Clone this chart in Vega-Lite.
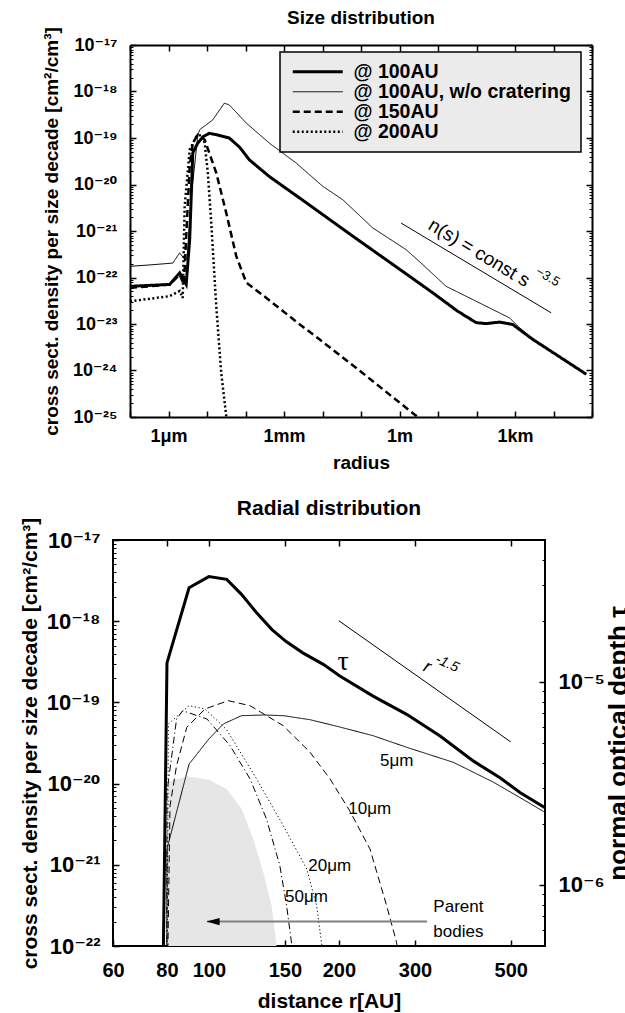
{
  "$schema": "https://vega.github.io/schema/vega-lite/v6.json",
  "background": "white",
  "padding": {"left": 18, "top": 8, "right": 0, "bottom": 0},
  "config": {
    "font": "Liberation Sans",
    "view": {"stroke": "black", "strokeWidth": 2},
    "axis": {"grid": false, "domain": false, "tickColor": "black", "tickWidth": 1.5, "labelColor": "black", "titleColor": "black", "labelFont": "Liberation Sans, DejaVu Sans", "titleFont": "Liberation Sans", "labelFontWeight": "bold", "titleFontWeight": "bold", "labelFlush": false, "labelOverlap": false},
    "title": {"font": "Liberation Sans", "fontWeight": "bold", "color": "black", "frame": "group", "anchor": "middle"},
    "text": {"font": "Liberation Sans", "color": "black"}
  },
  "resolve": {"scale": {"strokeDash": "independent"}, "legend": {"strokeDash": "independent"}},
  "datasets": {
    "size": [
      {"series": "@ 100AU", "s": 1e-7, "v": 6.46e-23},
      {"series": "@ 100AU", "s": 3.16e-7, "v": 6.76e-23},
      {"series": "@ 100AU", "s": 1.07e-6, "v": 7.08e-23},
      {"series": "@ 100AU", "s": 1.95e-6, "v": 1.26e-22},
      {"series": "@ 100AU", "s": 2.88e-6, "v": 7.08e-23},
      {"series": "@ 100AU", "s": 3.55e-6, "v": 6.61e-22},
      {"series": "@ 100AU", "s": 4.27e-6, "v": 4.79e-20},
      {"series": "@ 100AU", "s": 5.75e-6, "v": 7.76e-20},
      {"series": "@ 100AU", "s": 7.94e-6, "v": 1.07e-19},
      {"series": "@ 100AU", "s": 1.15e-5, "v": 1.26e-19},
      {"series": "@ 100AU", "s": 2.0e-5, "v": 1.15e-19},
      {"series": "@ 100AU", "s": 3.8e-5, "v": 1.0e-19},
      {"series": "@ 100AU", "s": 7.08e-5, "v": 6.31e-20},
      {"series": "@ 100AU", "s": 1.26e-4, "v": 3.39e-20},
      {"series": "@ 100AU", "s": 4.17e-4, "v": 1.48e-20},
      {"series": "@ 100AU", "s": 3.09e-3, "v": 4.57e-21},
      {"series": "@ 100AU", "s": 1.51e-2, "v": 1.78e-21},
      {"series": "@ 100AU", "s": 5.01e-2, "v": 8.71e-22},
      {"series": "@ 100AU", "s": 1, "v": 1.51e-22},
      {"series": "@ 100AU", "s": 7.33, "v": 4.68e-23},
      {"series": "@ 100AU", "s": 31.6, "v": 1.91e-23},
      {"series": "@ 100AU", "s": 97.7, "v": 1.07e-23},
      {"series": "@ 100AU", "s": 178, "v": 1.02e-23},
      {"series": "@ 100AU", "s": 398, "v": 1.10e-23},
      {"series": "@ 100AU", "s": 871, "v": 9.77e-24},
      {"series": "@ 100AU", "s": 2884, "v": 4.68e-24},
      {"series": "@ 100AU", "s": 70795, "v": 8.32e-25},
      {"series": "@ 100AU, w/o cratering", "s": 1e-7, "v": 1.74e-22},
      {"series": "@ 100AU, w/o cratering", "s": 3.16e-7, "v": 1.86e-22},
      {"series": "@ 100AU, w/o cratering", "s": 1.29e-6, "v": 2.04e-22},
      {"series": "@ 100AU, w/o cratering", "s": 1.95e-6, "v": 3.39e-22},
      {"series": "@ 100AU, w/o cratering", "s": 2.63e-6, "v": 2.45e-22},
      {"series": "@ 100AU, w/o cratering", "s": 3.02e-6, "v": 2.51e-22},
      {"series": "@ 100AU, w/o cratering", "s": 3.98e-6, "v": 6.31e-21},
      {"series": "@ 100AU, w/o cratering", "s": 5.75e-6, "v": 1.12e-19},
      {"series": "@ 100AU, w/o cratering", "s": 6.46e-6, "v": 1.51e-19},
      {"series": "@ 100AU, w/o cratering", "s": 1.41e-5, "v": 2.45e-19},
      {"series": "@ 100AU, w/o cratering", "s": 2.82e-5, "v": 5.62e-19},
      {"series": "@ 100AU, w/o cratering", "s": 3.8e-5, "v": 5.13e-19},
      {"series": "@ 100AU, w/o cratering", "s": 1.05e-4, "v": 2.09e-19},
      {"series": "@ 100AU, w/o cratering", "s": 4.17e-4, "v": 7.76e-20},
      {"series": "@ 100AU, w/o cratering", "s": 2.09e-3, "v": 2.88e-20},
      {"series": "@ 100AU, w/o cratering", "s": 1.02e-2, "v": 9.12e-21},
      {"series": "@ 100AU, w/o cratering", "s": 3.39e-2, "v": 4.68e-21},
      {"series": "@ 100AU, w/o cratering", "s": 0.2, "v": 1.17e-21},
      {"series": "@ 100AU, w/o cratering", "s": 1.48, "v": 3.98e-22},
      {"series": "@ 100AU, w/o cratering", "s": 3.98, "v": 1.91e-22},
      {"series": "@ 100AU, w/o cratering", "s": 16.2, "v": 6.46e-23},
      {"series": "@ 100AU, w/o cratering", "s": 97.7, "v": 3.09e-23},
      {"series": "@ 100AU, w/o cratering", "s": 724, "v": 1.35e-23},
      {"series": "@ 100AU, w/o cratering", "s": 1318, "v": 8.32e-24},
      {"series": "@ 100AU, w/o cratering", "s": 2884, "v": 4.68e-24},
      {"series": "@ 100AU, w/o cratering", "s": 70795, "v": 8.32e-25},
      {"series": "@ 150AU", "s": 1e-7, "v": 6.03e-23},
      {"series": "@ 150AU", "s": 3.16e-7, "v": 6.46e-23},
      {"series": "@ 150AU", "s": 1.07e-6, "v": 7.08e-23},
      {"series": "@ 150AU", "s": 1.95e-6, "v": 1.15e-22},
      {"series": "@ 150AU", "s": 2.51e-6, "v": 7.08e-23},
      {"series": "@ 150AU", "s": 3.55e-6, "v": 2.51e-20},
      {"series": "@ 150AU", "s": 4.27e-6, "v": 7.76e-20},
      {"series": "@ 150AU", "s": 5.75e-6, "v": 1.17e-19},
      {"series": "@ 150AU", "s": 8.71e-6, "v": 9.12e-20},
      {"series": "@ 150AU", "s": 1.74e-5, "v": 1.78e-20},
      {"series": "@ 150AU", "s": 3.16e-5, "v": 2.45e-21},
      {"series": "@ 150AU", "s": 5.75e-5, "v": 2.88e-22},
      {"series": "@ 150AU", "s": 1.05e-4, "v": 7.76e-23},
      {"series": "@ 150AU", "s": 2.82e-4, "v": 4.17e-23},
      {"series": "@ 150AU", "s": 2.09e-3, "v": 1.12e-23},
      {"series": "@ 150AU", "s": 8.32e-3, "v": 4.68e-24},
      {"series": "@ 150AU", "s": 9.12e-2, "v": 1.0e-24},
      {"series": "@ 150AU", "s": 2.95, "v": 1.0e-25},
      {"series": "@ 150AU", "s": 11.0, "v": 3.98e-26},
      {"series": "@ 200AU", "s": 1e-7, "v": 3.09e-23},
      {"series": "@ 200AU", "s": 3.16e-7, "v": 3.47e-23},
      {"series": "@ 200AU", "s": 1.07e-6, "v": 3.98e-23},
      {"series": "@ 200AU", "s": 1.95e-6, "v": 5.13e-23},
      {"series": "@ 200AU", "s": 2.34e-6, "v": 3.63e-23},
      {"series": "@ 200AU", "s": 2.63e-6, "v": 3.39e-21},
      {"series": "@ 200AU", "s": 3.55e-6, "v": 5.62e-20},
      {"series": "@ 200AU", "s": 5.25e-6, "v": 1.07e-19},
      {"series": "@ 200AU", "s": 7.08e-6, "v": 1.17e-19},
      {"series": "@ 200AU", "s": 8.71e-6, "v": 7.76e-20},
      {"series": "@ 200AU", "s": 1.05e-5, "v": 1.78e-20},
      {"series": "@ 200AU", "s": 1.29e-5, "v": 1.48e-21},
      {"series": "@ 200AU", "s": 1.74e-5, "v": 2.45e-23},
      {"series": "@ 200AU", "s": 2.34e-5, "v": 8.91e-25},
      {"series": "@ 200AU", "s": 3.16e-5, "v": 1.05e-25},
      {"series": "@ 200AU", "s": 3.55e-5, "v": 5.01e-26}
    ],
    "radial": [
      {"size": "5μm", "r": 79.9, "v": 1e-23},
      {"size": "5μm", "r": 80, "v": 1.57e-21},
      {"size": "5μm", "r": 90, "v": 1.74e-20},
      {"size": "5μm", "r": 100, "v": 3.54e-20},
      {"size": "5μm", "r": 108, "v": 5.42e-20},
      {"size": "5μm", "r": 119, "v": 6.86e-20},
      {"size": "5μm", "r": 134, "v": 7.0e-20},
      {"size": "5μm", "r": 149, "v": 6.86e-20},
      {"size": "5μm", "r": 171.5, "v": 6.12e-20},
      {"size": "5μm", "r": 198, "v": 5.08e-20},
      {"size": "5μm", "r": 240, "v": 3.89e-20},
      {"size": "5μm", "r": 287, "v": 2.80e-20},
      {"size": "5μm", "r": 368, "v": 1.83e-20},
      {"size": "5μm", "r": 456, "v": 1.04e-20},
      {"size": "5μm", "r": 516, "v": 7.1e-21},
      {"size": "5μm", "r": 600, "v": 4.43e-21},
      {"size": "10μm", "r": 79.9, "v": 1e-23},
      {"size": "10μm", "r": 81.3, "v": 5.3e-21},
      {"size": "10μm", "r": 84.2, "v": 1.66e-20},
      {"size": "10μm", "r": 88.9, "v": 4.93e-20},
      {"size": "10μm", "r": 98, "v": 8.3e-20},
      {"size": "10μm", "r": 110.9, "v": 1.05e-19},
      {"size": "10μm", "r": 124.6, "v": 9.1e-20},
      {"size": "10μm", "r": 148.7, "v": 5.16e-20},
      {"size": "10μm", "r": 171.5, "v": 2.43e-20},
      {"size": "10μm", "r": 190.8, "v": 1.14e-20},
      {"size": "10μm", "r": 212, "v": 4.6e-21},
      {"size": "10μm", "r": 236, "v": 1.57e-21},
      {"size": "10μm", "r": 258, "v": 3.13e-22},
      {"size": "10μm", "r": 272, "v": 1.11e-22},
      {"size": "10μm", "r": 276, "v": 6e-23},
      {"size": "20μm", "r": 79.9, "v": 1e-23},
      {"size": "20μm", "r": 80.6, "v": 5.42e-20},
      {"size": "20μm", "r": 90, "v": 9.1e-20},
      {"size": "20μm", "r": 98, "v": 8.3e-20},
      {"size": "20μm", "r": 110, "v": 4.6e-20},
      {"size": "20μm", "r": 129, "v": 1.14e-20},
      {"size": "20μm", "r": 148.7, "v": 3.03e-21},
      {"size": "20μm", "r": 168.5, "v": 8.9e-22},
      {"size": "20μm", "r": 177.7, "v": 3.1e-22},
      {"size": "20μm", "r": 182.5, "v": 1.06e-22},
      {"size": "20μm", "r": 184, "v": 7e-23},
      {"size": "50μm", "r": 79.9, "v": 1e-23},
      {"size": "50μm", "r": 80, "v": 7.8e-21},
      {"size": "50μm", "r": 84.2, "v": 6.25e-20},
      {"size": "50μm", "r": 87, "v": 7.9e-20},
      {"size": "50μm", "r": 99, "v": 6.25e-20},
      {"size": "50μm", "r": 112, "v": 2.93e-20},
      {"size": "50μm", "r": 124.6, "v": 1.14e-20},
      {"size": "50μm", "r": 136, "v": 3.66e-21},
      {"size": "50μm", "r": 146, "v": 9.75e-22},
      {"size": "50μm", "r": 151.4, "v": 3.1e-22},
      {"size": "50μm", "r": 155.5, "v": 1.06e-22},
      {"size": "50μm", "r": 157, "v": 7e-23}
    ],
    "tau": [
      {"r": 78.4, "tau": 4e-7},
      {"r": 80, "tau": 1.24e-5},
      {"r": 90, "tau": 2.91e-5},
      {"r": 100, "tau": 3.30e-5},
      {"r": 110, "tau": 3.2e-5},
      {"r": 119, "tau": 2.70e-5},
      {"r": 129, "tau": 2.19e-5},
      {"r": 140, "tau": 1.81e-5},
      {"r": 151, "tau": 1.58e-5},
      {"r": 165, "tau": 1.39e-5},
      {"r": 184, "tau": 1.22e-5},
      {"r": 201, "tau": 1.07e-5},
      {"r": 240, "tau": 8.51e-6},
      {"r": 287, "tau": 6.92e-6},
      {"r": 343, "tau": 5.41e-6},
      {"r": 410, "tau": 4.07e-6},
      {"r": 472, "tau": 3.37e-6},
      {"r": 525, "tau": 2.85e-6},
      {"r": 600, "tau": 2.40e-6}
    ],
    "parent": [
      {"r": 80, "v": 1.04e-20},
      {"r": 88.9, "v": 1.23e-20},
      {"r": 99.7, "v": 1.12e-20},
      {"r": 110, "v": 8.58e-21},
      {"r": 119.2, "v": 4.87e-21},
      {"r": 126.7, "v": 2.08e-21},
      {"r": 133.7, "v": 8.1e-22},
      {"r": 139.8, "v": 3.13e-22},
      {"r": 143.5, "v": 1.0e-22}
    ]
  },
  "vconcat": [
    {
      "width": 479,
      "height": 372,
      "view": {"stroke": null},
      "title": {"text": "Size distribution", "fontSize": 19, "offset": -1, "dx": 8.5},
      "resolve": {"axis": {"x": "independent", "y": "independent"}},
      "layer": [
        {
          "data": {"name": "size"},
          "mark": {"type": "line", "clip": true, "color": "black", "strokeCap": "butt"},
          "encoding": {
            "x": {"field": "s", "type": "quantitative",
              "scale": {"type": "log", "domain": [1e-7, 1e5], "nice": false, "range": [17, 479]},
              "axis": {"orient": "bottom", "values": [1e-7, 1e-6, 1e-5, 1e-4, 1e-3, 1e-2, 1e-1, 1, 10, 100, 1000, 1e4, 1e5], "tickSize": -6, "labelPadding": 16, "labelFontSize": 18,
                "domain": true, "domainColor": "black", "domainWidth": 2,
                "labelExpr": "datum.value == 1e-6 ? '1μm' : datum.value == 0.001 ? '1mm' : datum.value == 1 ? '1m' : datum.value == 1000 ? '1km' : ''",
                "title": "radius", "titleFontSize": 19, "titlePadding": 8}},
            "y": {"field": "v", "type": "quantitative",
              "scale": {"type": "log", "domain": [1e-25, 1e-17], "nice": false},
              "axis": {"orient": "left", "offset": -17, "values": [1e-25, 1e-24, 1e-23, 1e-22, 1e-21, 1e-20, 1e-19, 1e-18, 1e-17], "tickSize": -6, "labelPadding": 19, "labelFontSize": 18,
                "domain": true, "domainColor": "black", "domainWidth": 2,
                "labelExpr": "'10⁻' + (round(-log(datum.value)/LN10) >= 10 ? substring('⁰¹²³⁴⁵⁶⁷⁸⁹', floor(round(-log(datum.value)/LN10)/10), floor(round(-log(datum.value)/LN10)/10) + 1) : '') + substring('⁰¹²³⁴⁵⁶⁷⁸⁹', round(-log(datum.value)/LN10) % 10, round(-log(datum.value)/LN10) % 10 + 1)",
                "title": "cross sect. density per size decade [cm²/cm³]", "titleFontSize": 19, "titlePadding": 11}},
            "strokeDash": {"field": "series", "type": "nominal",
              "scale": {"domain": ["@ 100AU", "@ 100AU, w/o cratering", "@ 150AU", "@ 200AU"], "range": [[1, 0], [1, 0], [7, 4], [2, 2.5]]},
              "legend": {"title": null, "orient": "none", "legendX": 167, "legendY": 7, "fillColor": "#ebebeb", "strokeColor": "black", "padding": 10,
                "labelFontSize": 19.5, "labelFontWeight": "bold", "labelFont": "Liberation Sans", "labelColor": "black", "labelLimit": 500,
                "symbolType": "stroke", "symbolSize": 2500, "symbolStrokeColor": "black", "symbolOffset": 18, "labelOffset": 26, "rowPadding": -3,
                "encode": {
                  "symbols": {"update": {"strokeWidth": {"signal": "datum.value === '@ 100AU, w/o cratering' ? 1 : datum.value === '@ 100AU' ? 3 : 2.5"}}},
                  "legend": {"update": {"strokeWidth": {"value": 1.5}}}
                }}},
            "strokeWidth": {"condition": [{"test": "datum.series === '@ 100AU, w/o cratering'", "value": 1}, {"test": "datum.series === '@ 100AU'", "value": 3}], "value": 2.5}
          }
        },
        {
          "data": {"values": [{"s": 1.1, "v": 1.48e-21}, {"s": 8710, "v": 1.74e-23}]},
          "mark": {"type": "line", "color": "black", "strokeWidth": 1},
          "encoding": {
            "x": {"field": "s", "type": "quantitative",
              "scale": {"type": "log", "domain": [1e-7, 1e5], "nice": false, "range": [17, 479]},
              "axis": {"orient": "top", "values": [1e-7, 1e-6, 1e-5, 1e-4, 1e-3, 1e-2, 1e-1, 1, 10, 100, 1000, 1e4, 1e5], "tickSize": -6, "labels": false, "title": null,
                "domain": true, "domainColor": "black", "domainWidth": 2}},
            "y": {"field": "v", "type": "quantitative",
              "scale": {"type": "log", "domain": [1e-25, 1e-17], "nice": false},
              "axis": {"orient": "right", "values": [1e-25, 1e-24, 1e-23, 1e-22, 1e-21, 1e-20, 1e-19, 1e-18, 1e-17], "tickSize": -6, "labels": false, "title": null,
                "domain": true, "domainColor": "black", "domainWidth": 2}}
          }
        },
        {
          "data": {"values": [{"s": 117.5, "v": 3.39e-22, "label": "n(s) = const s"}]},
          "mark": {"type": "text", "angle": 31, "fontSize": 19, "align": "center", "baseline": "middle"},
          "encoding": {
            "x": {"field": "s", "type": "quantitative", "scale": {"type": "log", "domain": [1e-7, 1e5], "nice": false, "range": [17, 479]}, "axis": null},
            "y": {"field": "v", "type": "quantitative", "scale": {"type": "log", "domain": [1e-25, 1e-17], "nice": false},
              "axis": {"orient": "left", "offset": -17, "values": [2e-25, 3e-25, 4e-25, 5e-25, 6e-25, 7e-25, 8e-25, 9e-25, 2e-24, 3e-24, 4e-24, 5e-24, 6e-24, 7e-24, 8e-24, 9e-24, 2e-23, 3e-23, 4e-23, 5e-23, 6e-23, 7e-23, 8e-23, 9e-23, 2e-22, 3e-22, 4e-22, 5e-22, 6e-22, 7e-22, 8e-22, 9e-22, 2e-21, 3e-21, 4e-21, 5e-21, 6e-21, 7e-21, 8e-21, 9e-21, 2e-20, 3e-20, 4e-20, 5e-20, 6e-20, 7e-20, 8e-20, 9e-20, 2e-19, 3e-19, 4e-19, 5e-19, 6e-19, 7e-19, 8e-19, 9e-19, 2e-18, 3e-18, 4e-18, 5e-18, 6e-18, 7e-18, 8e-18, 9e-18],
                "tickSize": -3, "tickWidth": 1, "labels": false, "title": null}},
            "text": {"field": "label"}
          }
        },
        {
          "data": {"values": [{"s": 7080, "v": 1.035e-22, "label": "−3.5"}]},
          "mark": {"type": "text", "angle": 31, "fontSize": 13, "align": "center", "baseline": "middle"},
          "encoding": {
            "x": {"field": "s", "type": "quantitative", "scale": {"type": "log", "domain": [1e-7, 1e5], "nice": false, "range": [17, 479]}, "axis": null},
            "y": {"field": "v", "type": "quantitative", "scale": {"type": "log", "domain": [1e-25, 1e-17], "nice": false},
              "axis": {"orient": "right", "values": [2e-25, 3e-25, 4e-25, 5e-25, 6e-25, 7e-25, 8e-25, 9e-25, 2e-24, 3e-24, 4e-24, 5e-24, 6e-24, 7e-24, 8e-24, 9e-24, 2e-23, 3e-23, 4e-23, 5e-23, 6e-23, 7e-23, 8e-23, 9e-23, 2e-22, 3e-22, 4e-22, 5e-22, 6e-22, 7e-22, 8e-22, 9e-22, 2e-21, 3e-21, 4e-21, 5e-21, 6e-21, 7e-21, 8e-21, 9e-21, 2e-20, 3e-20, 4e-20, 5e-20, 6e-20, 7e-20, 8e-20, 9e-20, 2e-19, 3e-19, 4e-19, 5e-19, 6e-19, 7e-19, 8e-19, 9e-19, 2e-18, 3e-18, 4e-18, 5e-18, 6e-18, 7e-18, 8e-18, 9e-18],
                "tickSize": -3, "tickWidth": 1, "labels": false, "title": null}},
            "text": {"field": "label"}
          }
        }
      ]
    },
    {
      "width": 432,
      "height": 406,
      "title": {"text": "Radial distribution", "fontSize": 21, "offset": -2},
      "resolve": {"scale": {"y": "independent"}, "axis": {"x": "independent", "y": "independent"}},
      "layer": [
        {
          "data": {"name": "parent"},
          "mark": {"type": "area", "clip": true, "color": "#e6e6e6", "opacity": 1},
          "encoding": {
            "x": {"field": "r", "type": "quantitative", "scale": {"type": "log", "domain": [60, 600], "nice": false},
              "axis": {"orient": "top", "values": [80, 100, 150, 200, 300, 500], "tickSize": -6, "labels": false, "title": null}},
            "y": {"field": "v", "type": "quantitative", "scale": {"type": "log", "domain": [1e-22, 1e-17], "nice": false},
              "axis": {"orient": "left", "values": [2e-22, 3e-22, 4e-22, 5e-22, 6e-22, 7e-22, 8e-22, 9e-22, 2e-21, 3e-21, 4e-21, 5e-21, 6e-21, 7e-21, 8e-21, 9e-21, 2e-20, 3e-20, 4e-20, 5e-20, 6e-20, 7e-20, 8e-20, 9e-20, 2e-19, 3e-19, 4e-19, 5e-19, 6e-19, 7e-19, 8e-19, 9e-19, 2e-18, 3e-18, 4e-18, 5e-18, 6e-18, 7e-18, 8e-18, 9e-18],
                "tickSize": -3, "tickWidth": 1, "labels": false, "title": null}},
            "y2": {"datum": 1e-22}
          }
        },
        {
          "data": {"name": "radial"},
          "mark": {"type": "line", "clip": true, "color": "black", "strokeWidth": 1},
          "encoding": {
            "x": {"field": "r", "type": "quantitative", "scale": {"type": "log", "domain": [60, 600], "nice": false},
              "axis": {"orient": "bottom", "values": [60, 80, 100, 150, 200, 300, 500], "tickSize": -6, "labelPadding": 20, "labelFontSize": 20, "labelExpr": "'' + datum.value",
                "title": "distance r[AU]", "titleFontSize": 21, "titlePadding": 10}},
            "y": {"field": "v", "type": "quantitative", "scale": {"type": "log", "domain": [1e-22, 1e-17], "nice": false},
              "axis": {"orient": "left", "values": [1e-22, 1e-21, 1e-20, 1e-19, 1e-18, 1e-17], "tickSize": -6, "labelPadding": 19, "labelFontSize": 22,
                "labelExpr": "'10⁻' + (round(-log(datum.value)/LN10) >= 10 ? substring('⁰¹²³⁴⁵⁶⁷⁸⁹', floor(round(-log(datum.value)/LN10)/10), floor(round(-log(datum.value)/LN10)/10) + 1) : '') + substring('⁰¹²³⁴⁵⁶⁷⁸⁹', round(-log(datum.value)/LN10) % 10, round(-log(datum.value)/LN10) % 10 + 1)",
                "title": "cross sect. density per size decade [cm²/cm³]", "titleFontSize": 21, "titlePadding": 6}},
            "strokeDash": {"field": "size", "type": "nominal",
              "scale": {"domain": ["5μm", "10μm", "20μm", "50μm"], "range": [[1, 0], [7, 4], [1.2, 2.5], [7, 3, 1.2, 3]]},
              "legend": null}
          }
        },
        {
          "data": {"name": "tau"},
          "mark": {"type": "line", "clip": true, "color": "black", "strokeWidth": 3},
          "encoding": {
            "x": {"field": "r", "type": "quantitative", "scale": {"type": "log", "domain": [60, 600], "nice": false}, "axis": null},
            "y": {"field": "tau", "type": "quantitative", "scale": {"type": "log", "domain": [5e-7, 5e-5], "nice": false},
              "axis": {"orient": "right", "values": [1e-6, 1e-5], "tickSize": -6, "labelPadding": 19, "labelFontSize": 22,
                "labelExpr": "'10⁻' + substring('⁰¹²³⁴⁵⁶⁷⁸⁹', round(-log(datum.value)/LN10) % 10, round(-log(datum.value)/LN10) % 10 + 1)",
                "title": "normal optical depth τ", "titleFontSize": 26, "titleAngle": 270, "titleBaseline": "top", "titlePadding": 1}}
          }
        },
        {
          "data": {"values": [{"r": 200, "tau": 2e-5}, {"r": 500, "tau": 5.06e-6}]},
          "mark": {"type": "line", "color": "black", "strokeWidth": 1},
          "encoding": {
            "x": {"field": "r", "type": "quantitative", "scale": {"type": "log", "domain": [60, 600], "nice": false}, "axis": null},
            "y": {"field": "tau", "type": "quantitative", "scale": {"type": "log", "domain": [5e-7, 5e-5], "nice": false},
              "axis": {"orient": "right", "values": [6e-7, 7e-7, 8e-7, 9e-7, 2e-6, 3e-6, 4e-6, 5e-6, 6e-6, 7e-6, 8e-6, 9e-6, 2e-5, 3e-5, 4e-5], "tickSize": -3, "tickWidth": 1, "labels": false, "title": null}}
          }
        },
        {
          "data": {"values": [{"r": 204.5, "tau": 1.26e-5, "label": "τ"}]},
          "mark": {"type": "text", "font": "Liberation Serif", "fontSize": 28, "align": "center", "baseline": "middle"},
          "encoding": {
            "x": {"field": "r", "type": "quantitative", "scale": {"type": "log", "domain": [60, 600], "nice": false}, "axis": null},
            "y": {"field": "tau", "type": "quantitative", "scale": {"type": "log", "domain": [5e-7, 5e-5], "nice": false}, "axis": null},
            "text": {"field": "label"}
          }
        },
        {
          "data": {"values": [{"r": 320, "tau": 1.18e-5, "label": "r"}]},
          "mark": {"type": "text", "fontSize": 18, "fontStyle": "italic", "angle": 25, "align": "center", "baseline": "middle"},
          "encoding": {
            "x": {"field": "r", "type": "quantitative", "scale": {"type": "log", "domain": [60, 600], "nice": false}, "axis": null},
            "y": {"field": "tau", "type": "quantitative", "scale": {"type": "log", "domain": [5e-7, 5e-5], "nice": false}, "axis": null},
            "text": {"field": "label"}
          }
        },
        {
          "data": {"values": [{"r": 356, "tau": 1.23e-5, "label": "-1.5"}]},
          "mark": {"type": "text", "fontSize": 14, "fontStyle": "italic", "angle": 25, "align": "center", "baseline": "middle"},
          "encoding": {
            "x": {"field": "r", "type": "quantitative", "scale": {"type": "log", "domain": [60, 600], "nice": false}, "axis": null},
            "y": {"field": "tau", "type": "quantitative", "scale": {"type": "log", "domain": [5e-7, 5e-5], "nice": false}, "axis": null},
            "text": {"field": "label"}
          }
        },
        {
          "data": {"values": [
            {"r": 249, "v": 1.91e-20, "label": "5μm"},
            {"r": 210.3, "v": 4.87e-21, "label": "10μm"},
            {"r": 169.9, "v": 9.75e-22, "label": "20μm"},
            {"r": 150.1, "v": 3.98e-22, "label": "50μm"},
            {"r": 330.9, "v": 3.0e-22, "label": "Parent"},
            {"r": 330.9, "v": 1.47e-22, "label": "bodies"}
          ]},
          "mark": {"type": "text", "fontSize": 17, "align": "left", "baseline": "middle"},
          "encoding": {
            "x": {"field": "r", "type": "quantitative", "scale": {"type": "log", "domain": [60, 600], "nice": false}, "axis": null},
            "y": {"field": "v", "type": "quantitative", "scale": {"type": "log", "domain": [1e-22, 1e-17], "nice": false}, "axis": null},
            "text": {"field": "label"}
          }
        },
        {
          "data": {"values": [{"r": 320, "r2": 99, "v": 2e-22}]},
          "mark": {"type": "rule", "color": "#808080", "strokeWidth": 2},
          "encoding": {
            "x": {"field": "r", "type": "quantitative", "scale": {"type": "log", "domain": [60, 600], "nice": false}, "axis": null},
            "x2": {"field": "r2"},
            "y": {"field": "v", "type": "quantitative", "scale": {"type": "log", "domain": [1e-22, 1e-17], "nice": false}, "axis": null}
          }
        },
        {
          "data": {"values": [{"r": 102.3, "v": 2e-22}]},
          "mark": {"type": "point", "shape": "M-1,0L1,-0.55L1,0.55Z", "size": 169, "filled": true, "color": "black", "opacity": 1},
          "encoding": {
            "x": {"field": "r", "type": "quantitative", "scale": {"type": "log", "domain": [60, 600], "nice": false}, "axis": null},
            "y": {"field": "v", "type": "quantitative", "scale": {"type": "log", "domain": [1e-22, 1e-17], "nice": false}, "axis": null}
          }
        }
      ]
    }
  ],
  "spacing": 25
}
